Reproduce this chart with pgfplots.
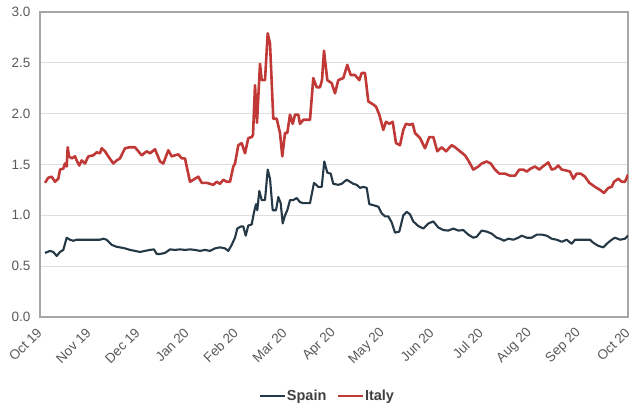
\documentclass[border=0pt]{standalone}
\usepackage{pgfplots}
\pgfplotsset{compat=1.18}
\usepackage{fontspec}
\setmainfont{Liberation Sans}
\definecolor{spain}{RGB}{36,56,70}
\definecolor{italy}{RGB}{192,57,55}
\definecolor{tickgray}{RGB}{89,89,89}
\definecolor{boxgray}{RGB}{166,166,166}
\definecolor{gridgray}{RGB}{222,222,222}
\begin{document}
\begin{tikzpicture}
\begin{axis}[
  scale only axis,
  width=588pt, height=305pt,
  xmin=0, xmax=588, ymin=0, ymax=3,
  xtick={0,49,98,147,196,245,294,343,392,441,490,539,588},
  xticklabels={Oct 19,Nov 19,Dec 19,Jan 20,Feb 20,Mar 20,Apr 20,May 20,Jun 20,Jul 20,Aug 20,Sep 20,Oct 20},
  ytick={0,0.5,1,1.5,2,2.5,3},
  /pgf/number format/assume math mode=true,
  ymajorgrids, grid style={gridgray, line width=0.9pt},
  major tick length=0pt,
  axis line style={boxgray, line width=1.2pt},
  tick label style={font=\fontsize{13.5}{15}\selectfont, text=tickgray},
  xticklabel style={xshift=2pt, yshift=-11pt, rotate=45, anchor=east},
  yticklabel style={xshift=-6pt, /pgf/number format/.cd,fixed,fixed zerofill,precision=1},
  legend style={at={(0.488,-0.259)}, anchor=center, draw=none, fill=none,
    font=\bfseries\fontsize{14.5}{16}\selectfont, text=black!75,
    legend columns=2, /tikz/every even column/.append style={column sep=9pt},
    nodes={inner xsep=1pt}, inner sep=0pt},
  legend image code/.code={\draw[#1] (0pt,0pt) -- (25pt,0pt);},
  clip=true,
]
\coordinate (sw) at (rel axis cs:0,0);
\coordinate (ne) at (rel axis cs:1,1);
\addplot[spain, line width=2.1pt, line join=round] coordinates {
(5,0.63)(10,0.65)(13.3,0.64)(16.7,0.60)(20,0.64)(23.3,0.66)(26.7,0.78)(30,0.76)(33.3,0.75)(36.7,0.76)
(41.7,0.76)(46.7,0.76)(51.7,0.76)(56.7,0.76)(60,0.76)(63.3,0.77)(66.7,0.76)(71.7,0.71)(76.7,0.69)(80,0.685)
(85,0.675)(90,0.66)(95,0.65)(100,0.64)(105,0.65)(110,0.66)(114,0.665)(116.7,0.62)(120,0.62)(125,0.63)
(130,0.665)(135,0.66)(140,0.665)(145,0.66)(150,0.665)(155,0.66)(160,0.65)(165,0.66)(170,0.65)(175,0.675)
(180,0.685)(185,0.675)(188.3,0.65)(191.7,0.71)(195,0.78)(197.3,0.87)(200.7,0.89)(203.3,0.89)(205.7,0.80)(208.3,0.90)
(211.7,0.91)(214,1.03)(216,1.11)(217.3,1.05)(219.3,1.24)(221.7,1.15)(225,1.15)(227.7,1.45)(230,1.36)(232.7,1.05)
(236,1.05)(238.3,1.18)(240.7,1.12)(242.7,0.92)(245,1.00)(247.3,1.05)(250,1.15)(253.3,1.15)(256.7,1.17)(260,1.13)
(263.3,1.12)(270,1.12)(274,1.32)(278.3,1.28)(281.7,1.28)(284.3,1.53)(287.3,1.42)(290.7,1.41)(293.3,1.31)(298.3,1.30)
(301.7,1.31)(306.7,1.35)(310,1.33)(313.3,1.31)(316.7,1.30)(320,1.27)(323.3,1.28)(326.7,1.27)(329.3,1.11)(333.3,1.10)
(338.3,1.085)(341.7,1.02)(345,0.99)(348.3,0.99)(351.7,0.93)(355,0.83)(359.3,0.84)(363.3,1.00)(366.7,1.035)(370,1.01)
(373.3,0.94)(378.3,0.895)(383.3,0.87)(388.3,0.92)(393.3,0.94)(398.3,0.88)(403.3,0.855)(408.3,0.85)(413.3,0.87)(418.3,0.85)
(423.3,0.855)(428.3,0.81)(433.3,0.78)(436.7,0.79)(441.7,0.85)(446.7,0.84)(451.7,0.82)(456.7,0.78)(460,0.77)(464,0.75)
(468.3,0.77)(473.3,0.76)(478.3,0.78)(481.7,0.80)(486.7,0.78)(491.7,0.78)(496.7,0.81)(501.7,0.81)(506.7,0.80)(511.7,0.77)
(516.7,0.76)(521.7,0.74)(526.7,0.76)(531.7,0.72)(535,0.76)(540,0.76)(545,0.76)(550,0.76)(553.3,0.73)(558.3,0.70)
(563.3,0.685)(566.7,0.72)(571.7,0.76)(575,0.78)(580,0.76)(585,0.77)(588,0.80)
};
\addlegendentry{Spain}
\addplot[italy, line width=2.6pt, line join=round] coordinates {
(5,1.32)(8.3,1.37)(11.7,1.38)(15,1.33)(18.3,1.36)(20,1.45)(23.3,1.46)(25,1.51)(26.7,1.48)(27.7,1.67)
(29,1.58)(31.7,1.56)(35,1.58)(36.7,1.54)(39.3,1.49)(41.7,1.54)(45,1.51)(48.3,1.58)(53.3,1.59)(56.7,1.62)
(60,1.61)(61.7,1.66)(65,1.63)(68.3,1.58)(73.3,1.51)(76.7,1.54)(80,1.56)(85,1.66)(90,1.67)(95,1.67)
(98.3,1.63)(101.7,1.59)(106.7,1.63)(110,1.61)(115,1.65)(120,1.53)(123.3,1.51)(128.3,1.64)(131.7,1.58)(135,1.59)
(138.3,1.60)(141.7,1.56)(145,1.56)(146.7,1.48)(150,1.33)(153.3,1.35)(158.3,1.38)(161.7,1.32)(166.7,1.32)(170,1.31)
(173.3,1.30)(176.7,1.33)(180,1.31)(183.3,1.35)(186.7,1.33)(190,1.33)(193.3,1.48)(195,1.51)(198.3,1.69)(201.7,1.71)
(205,1.61)(208.3,1.76)(211.7,1.77)(213,1.79)(215,2.28)(217,1.91)(220,2.49)(221.7,2.33)(225,2.33)(227.7,2.79)
(230,2.69)(233.3,1.95)(236.7,1.95)(240,1.81)(242.3,1.58)(245,1.81)(247.3,1.81)(250,1.99)(252.7,1.90)(255,1.99)
(258.3,1.99)(260,1.90)(263.3,1.94)(270,1.94)(273.3,2.35)(276.7,2.26)(280,2.26)(282,2.33)(284,2.62)(287.3,2.33)
(291.7,2.30)(295,2.20)(298.3,2.33)(303.3,2.35)(307.3,2.48)(310.7,2.38)(315,2.38)(319.3,2.33)(321.7,2.40)(325,2.40)
(328.3,2.12)(331.7,2.10)(336,2.07)(339.3,1.99)(343.3,1.84)(346,1.92)(349.3,1.90)(352.7,1.92)(356,1.71)(360,1.69)
(363.3,1.84)(366,1.90)(370,1.89)(372.7,1.90)(375,1.81)(380,1.76)(385,1.66)(389.3,1.77)(393.3,1.77)(397.3,1.63)
(401.7,1.67)(406,1.63)(411.7,1.69)(415,1.67)(420,1.63)(425,1.59)(428.3,1.54)(433.3,1.45)(438.3,1.48)(441.7,1.51)
(446.7,1.53)(450.7,1.51)(455,1.45)(459.3,1.41)(465,1.41)(470,1.39)(475,1.39)(479.3,1.45)(483.3,1.45)(486.7,1.43)
(490.7,1.46)(495,1.48)(499.3,1.45)(502.7,1.48)(508.3,1.52)(511.7,1.45)(515,1.46)(518.3,1.49)(521.7,1.45)(526.7,1.44)
(530,1.43)(533.3,1.36)(536.7,1.41)(540.7,1.41)(545,1.38)(549.3,1.32)(555,1.28)(560,1.25)(564,1.22)(568.3,1.27)
(571.7,1.28)(574,1.33)(578.3,1.36)(581.7,1.33)(585,1.33)(588,1.40)
};
\addlegendentry{Italy}
\end{axis}
\pgfresetboundingbox
\path[use as bounding box] ([shift={(-40pt,-90pt)}]sw) rectangle ([shift={(1pt,12pt)}]ne);
\end{tikzpicture}
\end{document}
